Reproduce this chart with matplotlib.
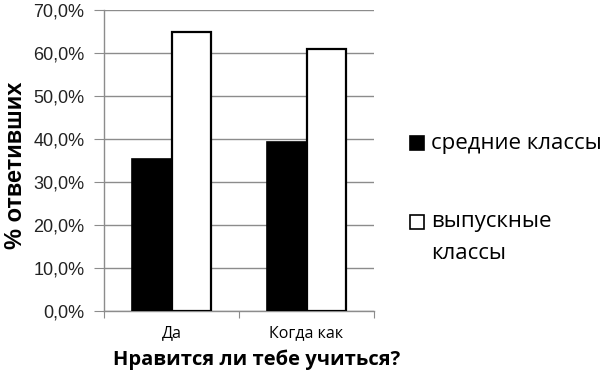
import matplotlib
matplotlib.use("Agg")
import matplotlib.pyplot as plt
import numpy as np
from matplotlib.ticker import FuncFormatter
from matplotlib.patches import Rectangle

categories = ["Да", "Когда как"]
series_names = ["средние классы", "выпускные\nклассы"]
middle = [35.3, 39.2]
graduates = [64.8, 60.9]
yticks = [0, 10, 20, 30, 40, 50, 60, 70]

label_font = ["Open Sans", "DejaVu Sans"]
num_font = ["Liberation Sans", "DejaVu Sans"]

W, H = 603, 381
fig = plt.figure(figsize=(W / 100, H / 100), dpi=100)
ax = fig.add_axes([0.1725, 0.1837, 0.4478, 0.7901])

x = np.arange(len(categories))
w = 0.29
ax.bar(x - w / 2, middle, w, color="black", edgecolor="black", linewidth=1.2, zorder=3)
ax.bar(x + w / 2, graduates, w, color="white", edgecolor="black", linewidth=1.6, zorder=3)

ax.set_xlim(-0.5, 1.5)
ax.set_ylim(0, 70)
ax.set_yticks(yticks)
ax.yaxis.set_major_formatter(FuncFormatter(lambda v, p: f"{v:.1f}%".replace(".", ",")))
ax.grid(axis="y", color="#8c8c8c", linewidth=1.0, zorder=0)

ax.set_xticks([-0.5, 0.5, 1.5], minor=False)
ax.set_xticklabels([])
ax.set_xticks(x, minor=True)
ax.set_xticklabels(categories, minor=True, fontsize=11.5, family=label_font)
ax.tick_params(axis="x", which="minor", length=0, pad=10)
ax.tick_params(axis="x", which="major", length=5, color="#8c8c8c")
ax.tick_params(axis="y", length=7, color="#8c8c8c", pad=7)
for t in ax.get_yticklabels():
    t.set_family(num_font)
    t.set_fontsize(13)
    t.set_color("#222222")

for s in ["top", "right"]:
    ax.spines[s].set_visible(False)
for s in ["left", "bottom"]:
    ax.spines[s].set_color("#8c8c8c")
    ax.spines[s].set_linewidth(1.0)

ax.set_ylabel("% ответивших", fontsize=17, fontweight="bold", family=num_font,
              labelpad=4.5, y=0.485)
ax.set_xlabel("Нравится ли тебе учиться?", fontsize=14.5, fontweight="bold",
              family=label_font, labelpad=6, x=0.567)

# legend, drawn by hand so the square sits on the first text line
colors = ["black", "white"]
sq_y = [143, 221.5]
for name, c, yc in zip(series_names, colors, sq_y):
    fig.patches.append(Rectangle((410 / W, 1 - (yc + 7) / H), 14 / W, 14 / H,
                                 facecolor=c, edgecolor="black", linewidth=1.2,
                                 transform=fig.transFigure))
    fig.text(431 / W, 1 - (yc - 10) / H, name, fontsize=16, family=label_font,
             va="top", ha="left", linespacing=1.65)

fig.savefig("out.png", dpi=100)
